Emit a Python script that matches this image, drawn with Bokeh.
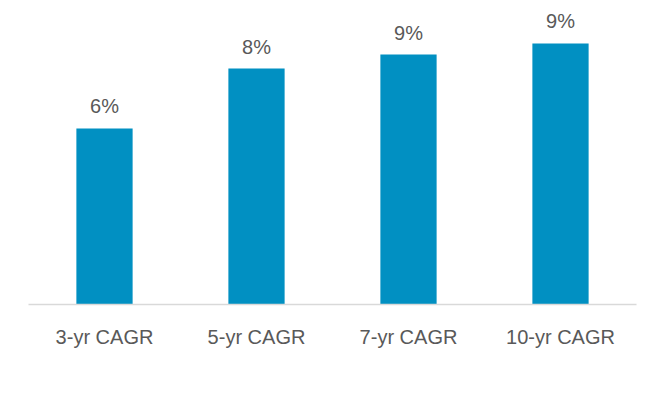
from bokeh.plotting import figure
from bokeh.models import ColumnDataSource, LabelSet, FactorRange, Range1d
from bokeh.core.properties import value
from bokeh.embed import file_html
from bokeh.resources import INLINE

categories = ["3-yr CAGR", "5-yr CAGR", "7-yr CAGR", "10-yr CAGR"]
values = [6.03, 8.08, 8.56, 8.94]
value_labels = ["6%", "8%", "9%", "9%"]

src = ColumnDataSource(dict(cat=categories, val=values, lab=value_labels))

p = figure(x_range=FactorRange(*categories, range_padding=0), y_range=Range1d(0, 10),
           width=648, height=387, output_backend="svg", toolbar_location=None,
           min_border_left=28, min_border_right=12, min_border_top=12, min_border_bottom=83)
p.vbar(x="cat", top="val", width=0.37, source=src, color="#0190c2", line_color=None)

labels = LabelSet(x="cat", y="val", text="lab", source=src, text_align="center",
                  text_baseline="alphabetic", y_offset=15, text_font=value("Liberation Sans"),
                  text_font_size="20px", text_color="#595959")
p.add_layout(labels)

p.yaxis.visible = False
p.xgrid.visible = False
p.ygrid.visible = False
p.outline_line_color = None
p.xaxis.axis_line_color = "#d9d9d9"
p.xaxis.axis_line_width = 1.5
p.xaxis.major_tick_line_color = None
p.xaxis.minor_tick_line_color = None
p.xaxis.major_label_text_font = "Liberation Sans"
p.xaxis.major_label_text_font_size = "20px"
p.xaxis.major_label_text_color = "#595959"
p.xaxis.major_label_standoff = 15

open("out.html", "w").write(file_html(p, INLINE))
